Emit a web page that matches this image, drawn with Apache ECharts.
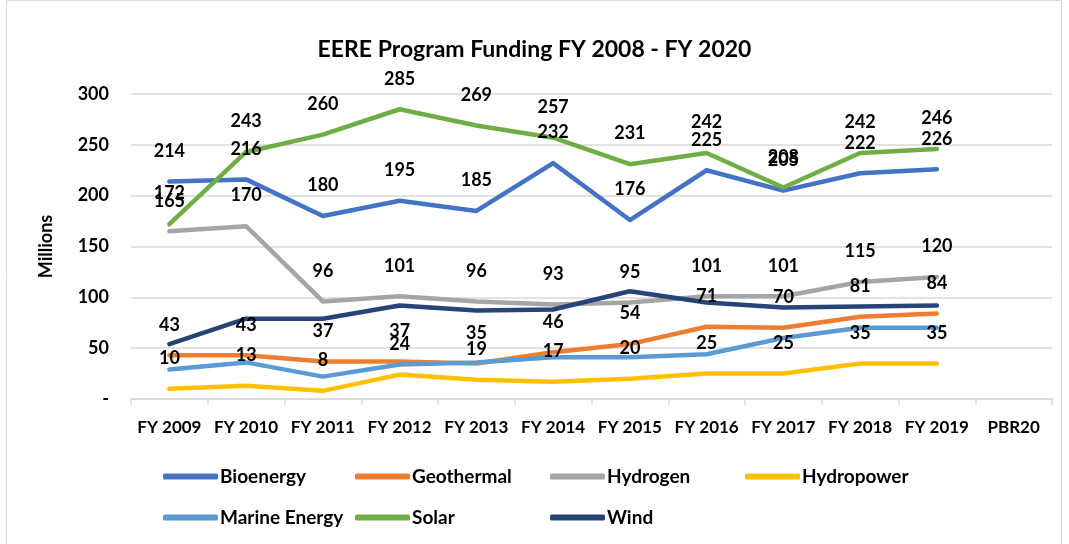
<!DOCTYPE html>
<html><head><meta charset="utf-8">
<script src="https://cdn.jsdelivr.net/npm/echarts@6/dist/echarts.min.js"></script>
<style>html,body{margin:0;padding:0;background:#fff}#c{width:1069px;height:544px}</style>
</head><body><div id="c"></div>
<script>
const categories = ['FY 2009','FY 2010','FY 2011','FY 2012','FY 2013','FY 2014','FY 2015','FY 2016','FY 2017','FY 2018','FY 2019','PBR20'];
const bioenergy   = [214, 216, 180, 195, 185, 232, 176, 225, 205, 222, 226, null];
const geothermal  = [43, 43, 37, 37, 35, 46, 54, 71, 70, 81, 84, null];
const hydrogen    = [165, 170, 96, 101, 96, 93, 95, 101, 101, 115, 120, null];
const hydropower  = [10, 13, 8, 24, 19, 17, 20, 25, 25, 35, 35, null];
const marine      = [29, 36, 22, 34, 36, 41, 41, 44, 60, 70, 70, null];
const solar       = [172, 243, 260, 285, 269, 257, 231, 242, 208, 242, 246, null];
const wind        = [54, 79, 79, 92, 87, 88, 106, 95, 90, 91, 92, null];
const yTicks = {min: 0, max: 300, interval: 50};

const FONT = 'Lato';
const names = ['Bioenergy','Geothermal','Hydrogen','Hydropower','Marine Energy','Solar','Wind'];
const colors = ['#4472C4','#ED7D31','#A5A5A5','#FFC000','#5B9BD5','#70AD47','#264478'];
const datas = [bioenergy, geothermal, hydrogen, hydropower, marine, solar, wind];
const labeled = [true, true, true, true, false, true, false];

const series = names.map((n, i) => ({
  name: n, type: 'line', data: datas[i],
  symbol: 'circle', symbolSize: 1, showSymbol: true, showAllSymbol: true,
  lineStyle: {width: 4.5, color: colors[i], cap: 'round', join: 'round'},
  itemStyle: {color: colors[i]},
  label: {show: labeled[i], position: 'top', distance: 21, color: '#000', fontFamily: FONT, fontWeight: 'bold', fontSize: 18},
  emphasis: {disabled: true}, animation: false, z: 2
}));

const legPos = [[163,467],[355,467],[550,467],[745,467],[163,508],[355,508],[550,508]];
const legends = names.map((n, i) => ({
  data: [n], left: legPos[i][0], top: legPos[i][1], itemWidth: 55, itemHeight: 6, itemGap: 0,
  icon: 'roundRect', padding: 0,
  textStyle: {fontFamily: FONT, fontWeight: 'bold', fontSize: 19, color: '#000', padding: [0,0,0,-3]}
}));

const chart = echarts.init(document.getElementById('c'));
chart.setOption({
  animation: false,
  title: {text: 'EERE Program Funding FY 2008 - FY 2020', left: 'center', top: 33,
    textStyle: {fontFamily: FONT, fontWeight: 'bold', fontSize: 23, color: '#000'}},
  legend: legends,
  grid: {left: 131, right: 17, top: 94, bottom: 145},
  xAxis: {type: 'category', data: categories, boundaryGap: true,
    axisLine: {lineStyle: {color: '#d9d9d9', width: 1.5}},
    axisTick: {show: true, lineStyle: {color: '#d9d9d9', width: 1.5}, length: 6},
    axisLabel: {fontFamily: FONT, fontWeight: 'bold', fontSize: 17, color: '#000', margin: 20, interval: 0}},
  yAxis: {type: 'value', min: yTicks.min, max: yTicks.max, interval: yTicks.interval,
    name: 'Millions', nameLocation: 'middle', nameGap: 76, nameRotate: 90,
    nameTextStyle: {fontFamily: FONT, fontWeight: 'bold', fontSize: 18, color: '#000'},
    axisLine: {show: false}, axisTick: {show: false},
    splitLine: {lineStyle: {color: '#d9d9d9', width: 1.5}},
    axisLabel: {fontFamily: FONT, fontWeight: 'bold', fontSize: 18, color: '#000', margin: 22,
      formatter: v => v === 0 ? '-' : String(v)}},
  graphic: [{type: 'rect', shape: {x: 6.5, y: 0.5, width: 1055, height: 560}, style: {fill: 'none', stroke: '#d9d9d9', lineWidth: 1}, silent: true}],
  series: series
});
</script></body></html>
